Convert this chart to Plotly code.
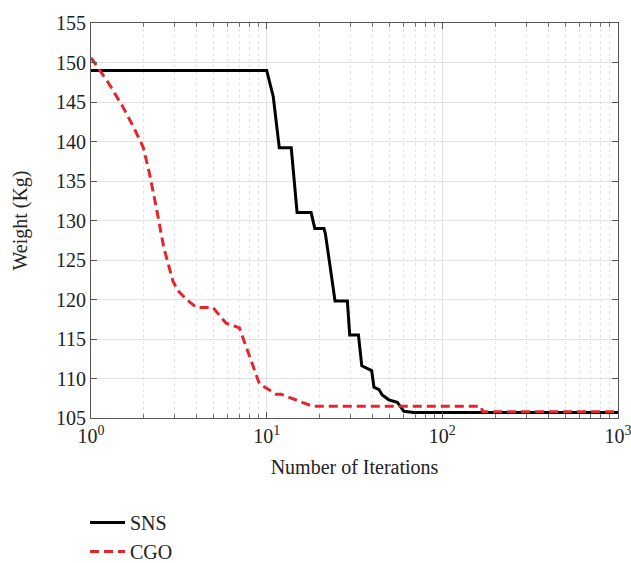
import plotly.graph_objects as go

# SNS convergence curve (iteration, weight)
sns_iter = [1, 10.0, 10.9, 11.8, 13.8, 14.9, 17.9, 18.8, 21.2, 21.6, 23.0, 24.5, 28.8, 29.7,
            33.3, 34.8, 39.6, 40.8, 43.6, 45.5, 49.6, 55.4, 60.4, 68.8, 1000]
sns_val = [149.0, 149.0, 145.7, 139.2, 139.2, 131.0, 131.0, 129.0, 129.0, 128.3, 124.1, 119.8, 119.8, 115.5,
           115.5, 111.6, 111.0, 108.9, 108.6, 107.9, 107.3, 107.0, 105.85, 105.7, 105.7]

# CGO convergence curve (iteration, weight)
cgo_iter = [1, 1.25, 1.5, 1.75, 1.98, 2.15, 2.36, 2.6, 2.93, 3.13, 3.5, 3.97, 4.94, 5.88, 7.0,
            8.0, 9.1, 10.1, 11.3, 12.1, 15.3, 18.2, 165, 170, 1000]
cgo_val = [150.6, 147.5, 144.6, 141.8, 139.3, 136.0, 131.5, 126.5, 122.3, 121.1, 120.0, 119.0, 119.0, 117.0, 116.4,
           112.8, 109.3, 108.7, 108.0, 108.0, 107.1, 106.5, 106.5, 105.8, 105.8]

x_tickvals = [1, 10, 100, 1000]
x_ticktext = ["10<sup>0</sup>", "10<sup>1</sup>", "10<sup>2</sup>", "10<sup>3</sup>"]
x_minor = [m * d for d in (1, 10, 100) for m in range(2, 10)]

FONT = "Liberation Serif"
W, H = 631, 563
ML, MR, MT, MB = 91, 13, 15, 145
PW = W - ML - MR

fig = go.Figure()
fig.add_trace(go.Scatter(x=sns_iter, y=sns_val, mode="lines", name="SNS",
                         line=dict(color="black", width=3)))
fig.add_trace(go.Scatter(x=cgo_iter, y=cgo_val, mode="lines", name="CGO",
                         line=dict(color="#e3262d", width=3, dash="9px,5px")))

fig.update_layout(
    width=W, height=H,
    margin=dict(l=ML, r=MR, t=MT, b=MB),
    paper_bgcolor="white", plot_bgcolor="white",
    font=dict(family=FONT, size=20, color="#222"),
    showlegend=True,
    legend=dict(x=(85 - ML) / PW, xref="paper", xanchor="left",
                y=(H - 503) / H, yref="container", yanchor="top",
                font=dict(family=FONT, size=20, color="#222"),
                bgcolor="rgba(0,0,0,0)", itemwidth=35, tracegroupgap=0),
)
fig.update_xaxes(
    type="log", range=[0, 3], automargin=False, ticklabeloverflow="allow",
    tickmode="array", tickvals=x_tickvals, ticktext=x_ticktext,
    ticks="inside", ticklen=6, tickcolor="#555",
    showline=True, linecolor="#555", linewidth=1.2, mirror="ticks",
    showgrid=True, gridcolor="#e2e2e2", gridwidth=1,
    minor=dict(tickmode="array", tickvals=x_minor, ticks="inside", ticklen=4, tickcolor="#777",
               showgrid=True, gridcolor="#e2e2e2", griddash="dot", gridwidth=1),
    title=dict(text="Number of Iterations", font=dict(family=FONT, size=20), standoff=13),
    tickfont=dict(family=FONT, size=20),
    zeroline=False,
)
fig.update_yaxes(
    range=[105, 155], dtick=5, tick0=105,
    ticks="inside", ticklen=6, tickcolor="#555",
    showline=True, linecolor="#555", linewidth=1.2, mirror="ticks",
    showgrid=True, gridcolor="#e2e2e2", gridwidth=1,
    title=dict(text="Weight (Kg)", font=dict(family=FONT, size=20), standoff=22),
    tickfont=dict(family=FONT, size=20),
    zeroline=False,
)

fig.write_html("out.html")
